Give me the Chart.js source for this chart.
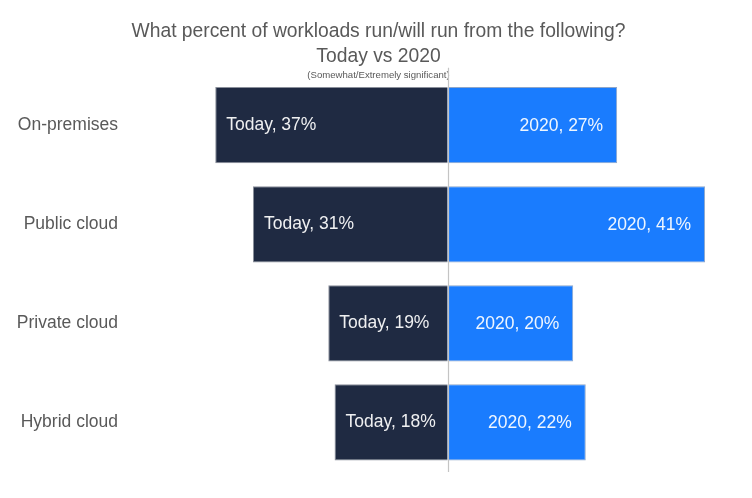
<!DOCTYPE html>
<html><head><meta charset="utf-8">
<script src="https://cdn.jsdelivr.net/npm/chart.js@4"></script>
<style>html,body{margin:0;padding:0;background:#fff}#wrap{width:752px;height:498px;position:relative;overflow:hidden}</style>
</head><body><div id="wrap"><canvas id="c"></canvas></div>
<script>
const categories = ['On-premises', 'Public cloud', 'Private cloud', 'Hybrid cloud'];
const todayValues = [37, 31, 19, 18];
const values2020 = [27, 41, 20, 22];
const seriesNames = ['Today', '2020'];
const titleLines = ['What percent of workloads run/will run from the following?', 'Today vs 2020'];
const subtitleText = '(Somewhat/Extremely significant)';

const FONT = "'Liberation Sans', Arial, Helvetica, sans-serif";
const GRAY = '#595959';

const zeroLine = {
  id: 'zeroLine',
  afterDatasetsDraw(chart) {
    const {ctx, chartArea, scales} = chart;
    const x = Math.round(scales.x.getPixelForValue(0)) + 0.5;
    ctx.save();
    ctx.strokeStyle = '#c4c4c4';
    ctx.lineWidth = 1.2;
    ctx.beginPath();
    ctx.moveTo(x, chartArea.top - 8);
    ctx.lineTo(x, chartArea.bottom);
    ctx.stroke();
    ctx.restore();
  }
};

const barLabels = {
  id: 'barLabels',
  afterDatasetsDraw(chart) {
    const {ctx} = chart;
    ctx.save();
    ctx.font = '17.5px ' + FONT;
    ctx.fillStyle = 'rgba(255,255,255,0.93)';
    ctx.textBaseline = 'middle';
    chart.data.datasets.forEach((ds, di) => {
      const meta = chart.getDatasetMeta(di);
      meta.data.forEach((bar, i) => {
        const v = Math.abs(ds.data[i]);
        const txt = seriesNames[di] + ', ' + v + '%';
        if (bar.x < bar.base) {
          ctx.textAlign = 'left';
          ctx.fillText(txt, bar.x + 11, bar.y);
        } else {
          ctx.textAlign = 'right';
          ctx.fillText(txt, bar.x - 14, bar.y + 1);
        }
      });
    });
    ctx.restore();
  }
};

new Chart(document.getElementById('c'), {
  type: 'bar',
  data: {
    labels: categories,
    datasets: [
      {
        label: seriesNames[0],
        data: todayValues.map(v => -v),
        backgroundColor: '#1f2a42',
        borderColor: '#8a8f9a',
        borderWidth: 1,
        borderSkipped: 'start',
        barPercentage: 0.77,
        categoryPercentage: 1
      },
      {
        label: seriesNames[1],
        data: values2020,
        backgroundColor: '#1a7cfe',
        borderColor: '#8fa6c8',
        borderWidth: 1,
        borderSkipped: 'start',
        barPercentage: 0.77,
        categoryPercentage: 1
      }
    ]
  },
  options: {
    indexAxis: 'y',
    responsive: true,
    maintainAspectRatio: false,
    animation: false,
    layout: { padding: { left: 0, right: -5, top: 0, bottom: 25.3 } },
    plugins: {
      legend: { display: false },
      tooltip: { enabled: false },
      title: {
        display: true,
        text: titleLines,
        color: GRAY,
        font: { family: FONT, size: 19.3, weight: 'normal', lineHeight: 1.3 },
        padding: { top: 19, bottom: 0 }
      },
      subtitle: {
        display: true,
        text: subtitleText,
        color: GRAY,
        font: { family: FONT, size: 9.6, weight: 'normal', lineHeight: 1.2 },
        padding: { top: 0, bottom: -5 }
      }
    },
    scales: {
      x: {
        display: false,
        stacked: true,
        min: -50,
        max: 48.47
      },
      y: {
        stacked: true,
        grid: { display: false, drawTicks: false },
        border: { display: false },
        ticks: {
          color: GRAY,
          font: { family: FONT, size: 17.5 },
          padding: 15.6
        },
        afterFit(scale) { scale.width = 133.6; }
      }
    }
  },
  plugins: [zeroLine, barLabels]
});
</script>
</body></html>
